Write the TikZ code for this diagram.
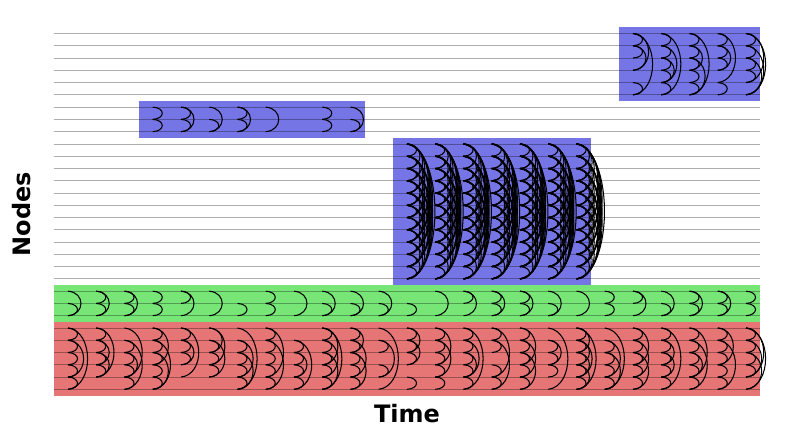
\documentclass[tikz,border=0pt]{standalone}
\usepackage{fontspec}
\setsansfont{DejaVu Sans}
\definecolor{cblue}{RGB}{117,117,230}
\definecolor{cgreen}{RGB}{119,230,119}
\definecolor{cred}{RGB}{230,117,117}
\tikzset{
  edge/.style={black,line width=1.05pt},
  gridline/.style={black,opacity=0.32,line width=0.85pt},
  lbl/.style={font=\sffamily\bfseries\fontsize{24}{28}\selectfont,inner sep=0pt}
}
\newcommand\edgesat[3]{%
  \foreach \a/\b in {#3}{%
    \pgfmathtruncatemacro\na{#2+\a}%
    \pgfmathtruncatemacro\nb{#2+\b}%
    \pgfmathsetmacro\w{12.67*(\b-\a)^0.45}%
    \pgfmathsetmacro\h{0.6*(\b-\a)}%
    \draw[edge] (p#1-\na) .. controls +(\w,\h) and +(\w,-\h) .. (p#1-\nb);
  }%
}
\begin{document}
\begin{tikzpicture}[x=1pt,y=-1pt]
\useasboundingbox (0,0) rectangle (790,438);
% grid coordinates
\foreach \t in {0,...,24}{\foreach \n in {0,...,29}{
  \coordinate (p\t-\n) at ({68+28.25*\t},{33.5+12.27*\n});}}
% community blocks
\fill[cblue] (619,27.4) rectangle (760.1,101);
\fill[cblue] (138.6,101) rectangle (364.6,137.8);
\fill[cblue] (392.9,137.8) rectangle (590.6,285);
\fill[cgreen] (53.9,285) rectangle (760.1,321.9);
\fill[cred] (53.9,321.9) rectangle (760.1,395.5);
% node lines
\foreach \n in {0,...,29}{
  \draw[gridline] ({53.9},{33.5+12.27*\n}) -- ({760.1},{33.5+12.27*\n});}
% green community (nodes 21-23)
\edgesat{0}{21}{0/2,1/2}
\edgesat{1}{21}{0/1,1/2,0/2}
\edgesat{2}{21}{0/1,1/2,0/2}
\edgesat{3}{21}{0/1,1/2}
\edgesat{4}{21}{0/1,0/2}
\edgesat{5}{21}{0/2}
\edgesat{6}{21}{1/2}
\edgesat{7}{21}{0/1,1/2}
\edgesat{8}{21}{0/2}
\edgesat{9}{21}{0/2,1/2}
\edgesat{10}{21}{0/2,1/2}
\edgesat{11}{21}{0/2,1/2}
\edgesat{12}{21}{1/2}
\edgesat{13}{21}{0/2}
\edgesat{14}{21}{0/1,0/2}
\edgesat{15}{21}{0/1,1/2,0/2}
\edgesat{16}{21}{0/1,1/2,0/2}
\edgesat{17}{21}{0/2,1/2}
\edgesat{18}{21}{0/2}
\edgesat{19}{21}{0/1,1/2}
\edgesat{20}{21}{0/1,0/2}
\edgesat{21}{21}{0/2,1/2}
\edgesat{22}{21}{0/1,1/2,0/2}
\edgesat{23}{21}{0/1,1/2,0/2}
\edgesat{24}{21}{0/1,1/2}
% red community (nodes 24-29)
\edgesat{0}{24}{0/5,0/1,1/2,2/3,3/4,4/5,1/4}
\edgesat{1}{24}{0/1,1/2,2/3,3/4,0/4,1/3,2/4}
\edgesat{2}{24}{1/2,2/3,3/4,4/5,1/5,2/4,0/4}
\edgesat{3}{24}{0/1,1/2,2/3,3/4,4/5,0/3,1/5,2/5}
\edgesat{4}{24}{0/1,1/2,2/3,0/4,1/3}
\edgesat{5}{24}{0/2,1/2,2/3,3/4,1/4,0/3}
\edgesat{6}{24}{1/2,2/3,3/4,4/5,0/5,1/4,2/5}
\edgesat{7}{24}{0/1,1/2,2/3,3/4,4/5,0/4,1/5}
\edgesat{8}{24}{1/2,2/3,3/4,4/5,1/5,2/4}
\edgesat{9}{24}{0/1,1/2,2/3,3/4,4/5,0/3,1/4,0/5,2/5}
\edgesat{10}{24}{0/1,1/2,2/3,3/4,4/5,0/2,1/4,2/5}
\edgesat{11}{24}{0/5,1/2,1/4,3/4}
\edgesat{12}{24}{0/1,1/2,2/3,4/5,0/2,1/3}
\edgesat{13}{24}{0/1,1/2,2/3,3/4,4/5,1/4,0/3}
\edgesat{14}{24}{0/1,1/2,2/3,3/4,4/5,0/5,1/4,2/4}
\edgesat{15}{24}{0/1,1/2,3/4,4/5,0/4,1/5}
\edgesat{16}{24}{0/1,1/2,2/3,3/4,4/5,0/3,1/4,2/5}
\edgesat{17}{24}{1/2,2/3,3/4,0/5,1/3}
\edgesat{18}{24}{0/1,1/2,2/3,3/4,4/5,0/2,1/3,2/4,3/5,0/5,1/4}
\edgesat{19}{24}{1/2,2/3,3/4,4/5,0/5,1/4,2/5}
\edgesat{20}{24}{0/1,1/2,2/3,3/4,4/5,0/3,1/4,2/5}
\edgesat{21}{24}{0/1,1/2,2/3,3/4,4/5,0/5,1/3,2/4}
\edgesat{22}{24}{0/1,1/2,2/3,3/4,4/5,0/4,1/5,2/4}
\edgesat{23}{24}{0/1,1/2,2/3,3/4,4/5,0/3,1/5}
\edgesat{24}{24}{0/1,1/2,2/3,3/4,0/5,1/4,2/5,0/4}
% small blue community (nodes 6-8)
\edgesat{3}{6}{0/1,1/2}
\edgesat{4}{6}{0/1,1/2,0/2}
\edgesat{5}{6}{0/2,1/2}
\edgesat{6}{6}{0/1,1/2,0/2}
\edgesat{7}{6}{0/2}
\edgesat{9}{6}{0/1,1/2}
\edgesat{10}{6}{0/2,1/2}
% top blue community (nodes 0-5)
\edgesat{20}{0}{0/1,1/2,0/3,4/5,0/5,1/3}
\edgesat{21}{0}{0/1,1/2,2/3,3/4,0/5,1/4,2/4,4/5}
\edgesat{22}{0}{0/1,1/2,2/3,3/4,4/5,1/3,0/5,2/5}
\edgesat{23}{0}{0/1,1/2,2/3,1/3,0/4,4/5}
\edgesat{24}{0}{0/1,1/2,2/3,3/4,0/5,1/5,2/5,0/4}
% large blue community (nodes 9-20)
\foreach \t in {12,...,18}{
  \foreach \a in {0,...,10}{
    \pgfmathtruncatemacro\aa{\a+1}
    \foreach \b in {\aa,...,11}{
      \pgfmathtruncatemacro\skp{(mod(\a*7+\b*3+\t*5,5)==0)*((\b-\a)>1)}
      \ifnum\skp=0
        \pgfmathtruncatemacro\na{9+\a}
        \pgfmathtruncatemacro\nb{9+\b}
        \pgfmathsetmacro\w{12.67*(\b-\a)^0.45}
        \pgfmathsetmacro\h{0.6*(\b-\a)}
        \draw[edge] (p\t-\na) .. controls +(\w,\h) and +(\w,-\h) .. (p\t-\nb);
      \fi
    }
  }
}
% axis labels
\node[lbl] (xlab) at (407,414) {Time};
\node[lbl,rotate=90] (ylab) at (22,214) {Nodes};
\end{tikzpicture}
\end{document}
